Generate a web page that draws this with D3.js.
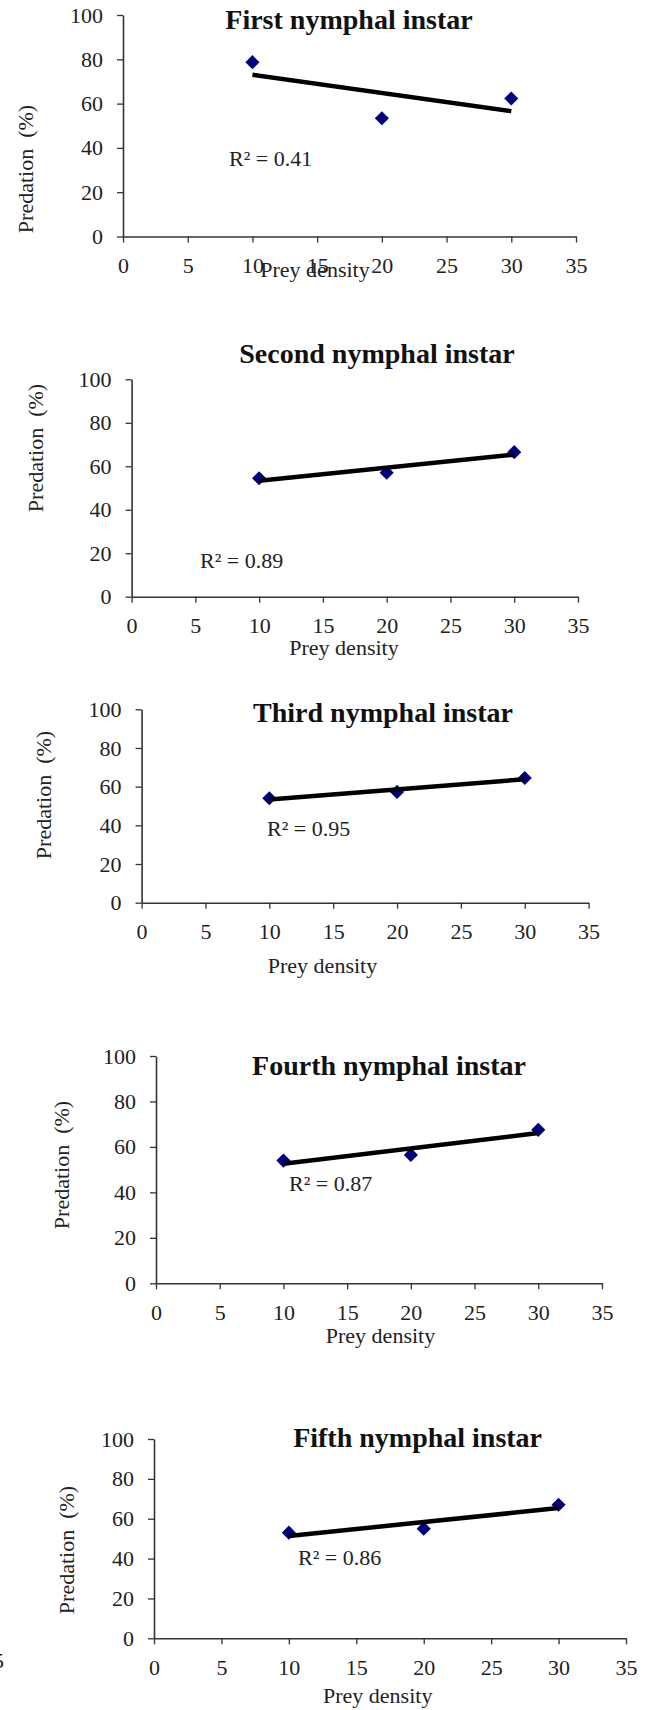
<!DOCTYPE html>
<html>
<head>
<meta charset="utf-8">
<script src="https://cdn.jsdelivr.net/npm/d3@7"></script>
<style>
  body { margin: 0; background: #fff; }
  svg { display: block; }
  svg text { font-family: "Liberation Serif", "Times New Roman", serif; }
</style>
</head>
<body>
<svg id="chart" width="649" height="1710"></svg>
<script>
// data
const density = [10, 20, 30];
const titles = ["First nymphal instar", "Second nymphal instar", "Third nymphal instar",
                "Fourth nymphal instar", "Fifth nymphal instar"];
const predation1 = [78.7, 53.4, 62.3];
const predation2 = [54.5, 57, 66.5];
const predation3 = [54, 57.3, 64.5];
const predation4 = [54, 56.5, 67.5];
const predation5 = [53, 55, 67];
const r2Labels = ["R² = 0.41", "R² = 0.89", "R² = 0.95", "R² = 0.87", "R² = 0.86"];
const xTicks = [0, 5, 10, 15, 20, 25, 30, 35];
const yTicks = [0, 20, 40, 60, 80, 100];

const series = [predation1, predation2, predation3, predation4, predation5];

// where each panel sits on the page
const layout = [
  { l: 123, r: 576, t: 15, b: 236.5, tx: 349, ty: 29, xlx: 315, xly: 277, ylx: 25, yly: 169, rx: 229, ry: 166 },
  { l: 131.6, r: 578, t: 379.3, b: 596.7, tx: 377, ty: 363, xlx: 344, xly: 655, ylx: 35, yly: 448, rx: 200, ry: 568 },
  { l: 141.6, r: 588.6, t: 709.3, b: 902.7, tx: 383, ty: 722, xlx: 322.5, xly: 973, ylx: 43.5, yly: 795, rx: 267, ry: 836 },
  { l: 156, r: 602, t: 1056, b: 1283.3, tx: 389, ty: 1075, xlx: 380.5, xly: 1343, ylx: 61, yly: 1165, rx: 289, ry: 1191 },
  { l: 154, r: 626, t: 1439, b: 1638.3, tx: 417.6, ty: 1447, xlx: 377.7, xly: 1703, ylx: 66, yly: 1550, rx: 298, ry: 1565 }
];

const svg = d3.select("#chart");

// least squares line through the points (the linear trendline)
function fit(xs, ys) {
  const mx = d3.mean(xs), my = d3.mean(ys);
  const sxy = d3.sum(xs, (x, i) => (x - mx) * (ys[i] - my));
  const sxx = d3.sum(xs, x => (x - mx) ** 2);
  const slope = sxy / sxx;
  return x => my + slope * (x - mx);
}

series.forEach((vals, i) => {
  const p = layout[i];
  const x = d3.scaleLinear().domain([0, 35]).range([p.l, p.r]);
  const y = d3.scaleLinear().domain([0, 100]).range([p.b, p.t]);
  const g = svg.append("g");

  // axes
  const yAxis = g.append("g")
    .attr("transform", `translate(${p.l},0)`)
    .call(d3.axisLeft(y).tickValues(yTicks).tickSize(6).tickSizeOuter(0).tickPadding(14));
  const xAxis = g.append("g")
    .attr("transform", `translate(0,${p.b})`)
    .call(d3.axisBottom(x).tickValues(xTicks).tickSize(6).tickSizeOuter(0).tickPadding(15));

  [xAxis, yAxis].forEach(a => {
    a.attr("font-family", null).attr("font-size", null);
    a.select(".domain").attr("stroke", "#333").attr("stroke-width", 1.6);
    a.selectAll(".tick line").attr("stroke", "#333").attr("stroke-width", 1.3);
    a.selectAll(".tick text").style("font-size", "22px").attr("fill", "#222");
  });

  // title
  g.append("text")
    .attr("x", p.tx).attr("y", p.ty)
    .attr("text-anchor", "middle")
    .style("font-size", "28px").style("font-weight", "bold")
    .attr("fill", "#111")
    .text(titles[i]);

  // axis titles
  g.append("text")
    .attr("x", p.xlx).attr("y", p.xly)
    .attr("text-anchor", "middle")
    .style("font-size", "22px").attr("fill", "#222")
    .text("Prey density");

  g.append("text")
    .attr("transform", `translate(${p.ylx},${p.yly}) rotate(-90)`)
    .attr("text-anchor", "middle")
    .attr("dominant-baseline", "central")
    .style("font-size", "22px").attr("fill", "#222")
    .style("white-space", "pre")
    .text("Predation  (%)");

  // points
  g.selectAll(".pt")
    .data(density.map((d, k) => [d, vals[k]]))
    .join("path")
    .attr("class", "pt")
    .attr("d", d3.symbol(d3.symbolSquare, 100))
    .attr("transform", d => `translate(${x(d[0])},${y(d[1])}) rotate(45)`)
    .attr("fill", "#00007f");

  // trendline
  const f = fit(density, vals);
  const ends = d3.extent(density);
  g.append("line")
    .attr("x1", x(ends[0])).attr("y1", y(f(ends[0])))
    .attr("x2", x(ends[1])).attr("y2", y(f(ends[1])))
    .attr("stroke", "#000").attr("stroke-width", 4.5);

  // R² label
  g.append("text")
    .attr("x", p.rx).attr("y", p.ry)
    .style("font-size", "22px").attr("fill", "#222")
    .text(r2Labels[i]);
});

// stray page number fragment at the left edge
svg.append("text")
  .attr("x", -7).attr("y", 1668)
  .style("font-size", "22px").attr("fill", "#222")
  .text("5");
</script>
</body>
</html>
